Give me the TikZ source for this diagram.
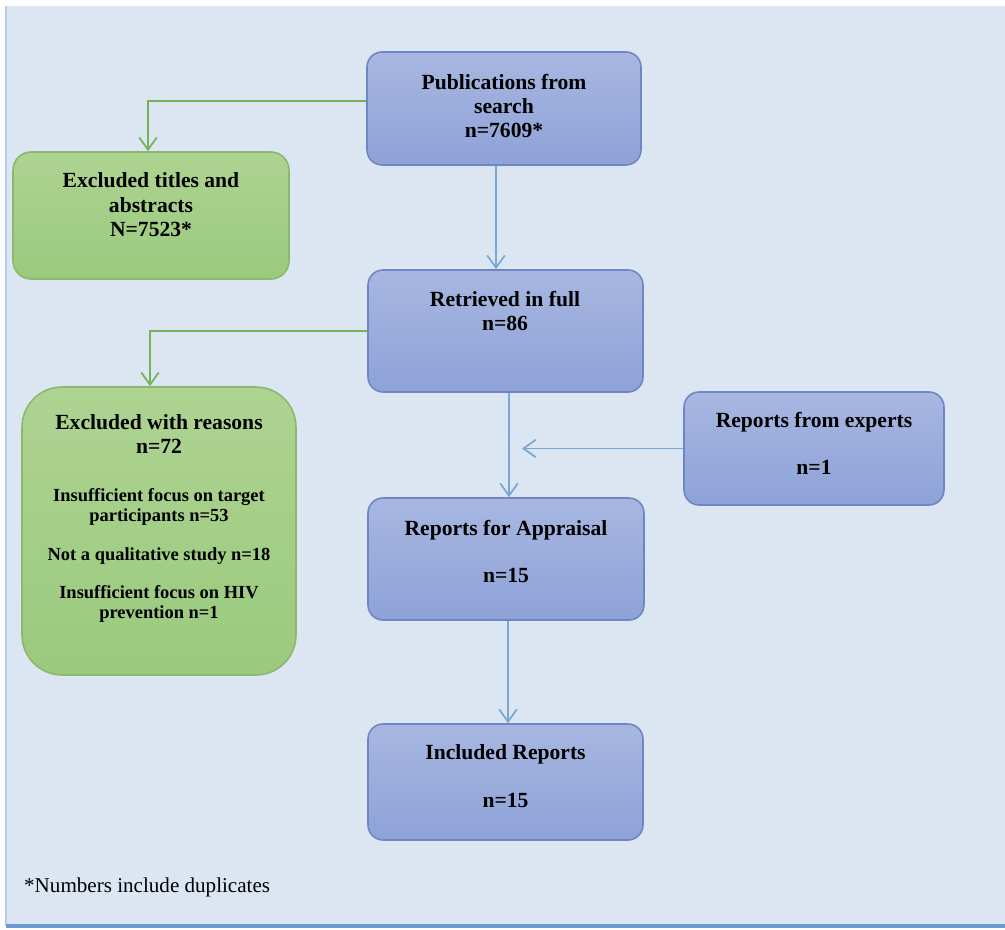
\documentclass[tikz,border=0pt]{standalone}
\usepackage{fontspec}
\setmainfont{Liberation Serif}
\usetikzlibrary{arrows.meta}
\definecolor{panelbg}{HTML}{DCE6F2}
\definecolor{panelline}{HTML}{6B9BD0}
\definecolor{blueTop}{HTML}{A8B7E1}
\definecolor{blueBot}{HTML}{8EA2D8}
\definecolor{blueEdge}{HTML}{6F86C5}
\definecolor{greenTop}{HTML}{AED391}
\definecolor{greenBot}{HTML}{9ACA7E}
\definecolor{greenEdge}{HTML}{8CB86E}
\definecolor{blueLink}{HTML}{7BA7D3}
\definecolor{greenLink}{HTML}{78B257}
\begin{document}
\begin{tikzpicture}[x=0.02cm,y=-0.02cm,
    blueBox/.style={draw=blueEdge,line width=0.9pt,top color=blueTop,bottom color=blueBot,rounded corners=0.3cm},
    greenBox/.style={draw=greenEdge,line width=0.9pt,top color=greenTop,bottom color=greenBot,rounded corners=0.36cm},
    boxText/.style={align=center,font=\fontsize{12.3}{13.9}\selectfont\bfseries},
    smallText/.style={align=center,font=\fontsize{10.5}{11.4}\selectfont\bfseries},
    blueArrow/.style={draw=blueLink,line width=1pt,-{Straight Barb[length=7pt,width=10pt]}},
    greenArrow/.style={draw=greenLink,line width=1pt,-{Straight Barb[length=7pt,width=10pt]}}]
        \useasboundingbox (0,0) rectangle (1005,930);
        % panel
        \fill[panelbg] (6,6) rectangle (1005,926);
        \draw[panelline!50,line width=0.8pt] (6,6) -- (6,926);
        \draw[panelline,line width=1.8pt] (6,926) -- (1005,926);
        % boxes
        \node[blueBox,minimum width=5.48cm,minimum height=2.26cm] (pub) at (504,108.5) {};
        \node[greenBox,minimum width=5.52cm,minimum height=2.54cm] (exA) at (151,215.5) {};
        \node[blueBox,minimum width=5.5cm,minimum height=2.44cm] (ret) at (505.5,331) {};
        \node[greenBox,rounded corners=0.8cm,minimum width=5.48cm,minimum height=5.76cm] (exB) at (159,531) {};
        \node[blueBox,minimum width=5.2cm,minimum height=2.26cm] (exp) at (814,448.5) {};
        \node[blueBox,minimum width=5.52cm,minimum height=2.44cm] (app) at (506,559) {};
        \node[blueBox,minimum width=5.5cm,minimum height=2.32cm] (inc) at (505.5,782) {};
        % texts
        \node[boxText] (pubTxt) at (504,106) {Publications from\\search\\n=7609*};
        \node[boxText] (exATxt) at (151,205) {Excluded titles and\\abstracts\\N=7523*};
        \node[boxText] (retTxt) at (505,311) {Retrieved in full\\n=86};
        \node[boxText] (exBHead) at (159,434) {Excluded with reasons\\n=72};
        \node[smallText] (exBBody) at (159,555.5) {Insufficient focus on target\\participants n=53\\[10.5pt]Not a qualitative study n=18\\[10.5pt]Insufficient focus on HIV\\prevention n=1};
        \node[boxText] (expTxt) at (814,443.5) {Reports from experts\\[12.8pt]n=1};
        \node[boxText] (appTxt) at (506,551.5) {Reports for Appraisal\\[12.8pt]n=15};
        \node[boxText] (incTxt) at (505.5,776) {Included Reports\\[13.3pt]n=15};
        \node[anchor=west,font=\fontsize{12}{14}\selectfont] (note) at (18,887) {*Numbers include duplicates};
        % connectors
        \coordinate (join) at (522,448.5);
        \draw[greenArrow] ([yshift=0.15cm]pub.west) -| ([xshift=-0.06cm]exA.north);
        \draw[greenArrow] (ret.west) -| ([xshift=-0.18cm]exB.north);
        \draw[blueArrow] ([xshift=-0.16cm]pub.south) -- ([xshift=-0.16cm]pub.south |- ret.north);
        \draw[blueArrow] ([xshift=0.07cm]ret.south) -- ([xshift=0.07cm]ret.south |- app.north);
        \draw[blueArrow] (exp.west) -- (join);
        \draw[blueArrow] ([xshift=0.04cm]app.south) -- ([xshift=0.04cm]app.south |- inc.north);
    \end{tikzpicture}
\end{document}
